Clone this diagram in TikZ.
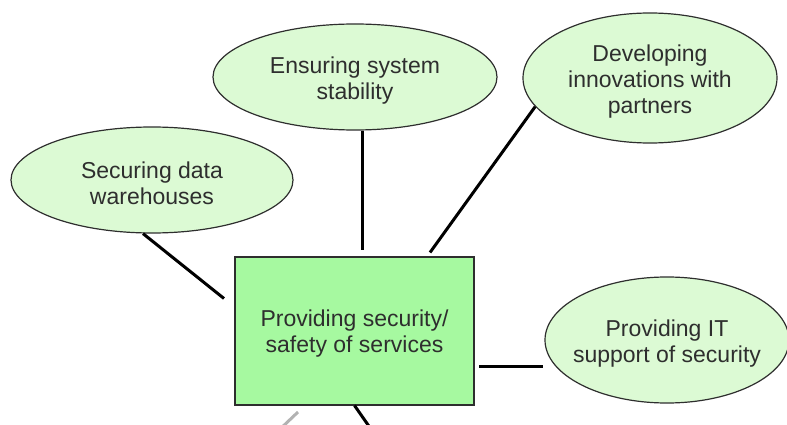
\documentclass[tikz,border=0pt]{standalone}
\usepackage{fontspec}
\setmainfont{Liberation Sans}
\usetikzlibrary{shapes.geometric}
\definecolor{boxgreen}{HTML}{A6F9A0}
\definecolor{ovalgreen}{HTML}{DCFAD4}
\definecolor{inkgray}{HTML}{2E2E2E}
\begin{document}
\begin{tikzpicture}[x=1pt,y=-1pt,
  txt/.style={align=center, text=inkgray, font=\fontsize{23}{26}\selectfont, yshift=-3.5pt},
  goal/.style={draw=inkgray, line width=1.2pt, fill=ovalgreen, ellipse, inner sep=0pt},
  core/.style={draw=inkgray, line width=2pt, fill=boxgreen, minimum width=239pt, minimum height=148pt},
  link/.style={line width=3pt}]
\useasboundingbox (0,0) rectangle (787,425);

\node[core, label={[name=boxl, txt]center:Providing security/\\safety of services}] (box) at (354.5,330.5) {};

\node[goal, minimum width=282pt, minimum height=106pt, label={[name=secl, txt]center:Securing data\\warehouses}] (sec) at (152,180) {};
\node[goal, minimum width=284pt, minimum height=106pt, label={[name=stal, txt]center:Ensuring system\\stability}] (sta) at (355,77) {};
\node[goal, minimum width=254pt, minimum height=130pt, label={[name=innl, txt]center:Developing\\innovations with\\partners}] (inn) at (650,78) {};
\node[goal, minimum width=244pt, minimum height=126pt, label={[name=itsl, txt]center:Providing IT\\support of security}] (its) at (667,340) {};

\coordinate (down) at (373,432);
\coordinate (grayup) at (298,412);
\coordinate (graydown) at (277,432);

\path[draw,link] ([xshift=-9pt]sec.south) -- ([shift={(-10,-32)}]box.west);
\path[draw,link] ([xshift=7pt]sta.south) -- ([shift={(7.5,-6)}]box.north);
\path[draw,link] (inn.194) -- ([shift={(75.5,-3)}]box.north);
\path[draw,link] ([shift={(4,35.5)}]box.east) -- ([shift={(-1,26)}]its.west);
\path[draw,link] (box.south) -- (down);
\path[draw,link,black!30] (grayup) -- (graydown);
\end{tikzpicture}
\end{document}
